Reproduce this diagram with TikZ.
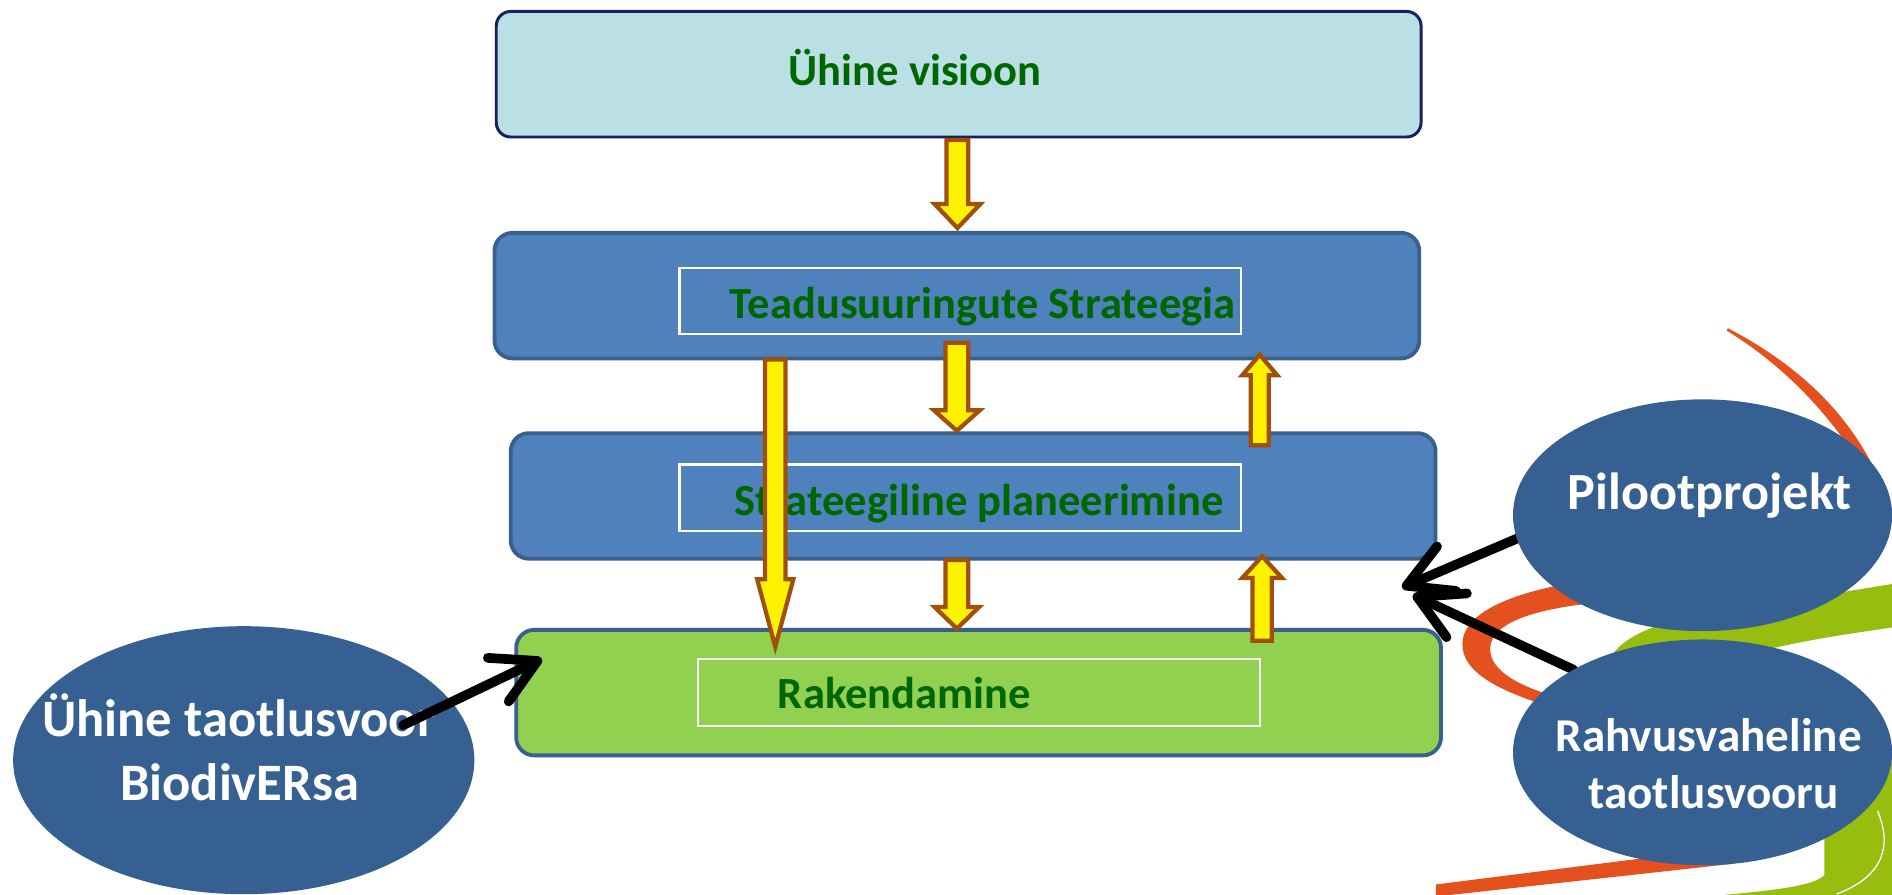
\documentclass[tikz,border=0pt]{standalone}
\usepackage{fontspec}
\setmainfont{Carlito}
\usetikzlibrary{arrows.meta,shapes.geometric,calc}
\definecolor{visfill}{RGB}{186,223,228}
\definecolor{visdraw}{RGB}{20,35,90}
\definecolor{bluefill}{RGB}{79,129,189}
\definecolor{bluedraw}{RGB}{58,95,140}
\definecolor{greenfill}{RGB}{146,208,80}
\definecolor{textgreen}{RGB}{0,102,0}
\definecolor{ovalfill}{RGB}{55,96,146}
\definecolor{ribbonorange}{RGB}{228,80,30}
\definecolor{ribbongreen}{RGB}{151,189,15}
\definecolor{arrowbrown}{RGB}{160,80,10}
\newcommand{\yarrow}[5]{%
  \draw[yblock] let \p1=(#1), \p2=(#2), \n1={sign(\y2-\y1)}, \n2={\y2-\n1*#3} in
    ({\x1-#4},\y1) -- ({\x1+#4},\y1) -- ({\x1+#4},\n2) -- ({\x1+#5},\n2)
    -- (\x2,\y2) -- ({\x1-#5},\n2) -- ({\x1-#4},\n2) -- cycle;}
\tikzset{
  boxbase/.style={rectangle, rounded corners=0.15cm, minimum width=7.66cm, minimum height=1.04cm, inner sep=0pt, line width=0.9pt},
  topbox/.style={boxbase, fill=visfill, draw=visdraw, line width=0.7pt, rounded corners=0.12cm},
  bluebox/.style={boxbase, fill=bluefill, draw=bluedraw},
  greenbox/.style={boxbase, fill=greenfill, draw=bluedraw},
  innerrect/.style={rectangle, draw=white, line width=0.5pt, inner sep=0pt, minimum width=4.65cm, minimum height=0.55cm},
  boxtext/.style={anchor=base west, inner sep=0pt, font=\bfseries\fontsize{10.5}{12}\selectfont, text=textgreen},
  oval/.style={ellipse, fill=ovalfill, inner sep=0pt},
  ovaltext/.style={anchor=base, inner sep=0pt, text=white},
  yblock/.style={fill=yellow, draw=arrowbrown, line width=1pt, line join=miter},
  barrow/.style={draw=black, line width=0.08cm, line cap=round, -{Straight Barb[length=0.36cm, width=0.40cm, round]}},
  orangeband/.style={fill=ribbonorange},
  greenband/.style={fill=ribbongreen},
}
\begin{document}
\begin{tikzpicture}[x=0.01cm, y=-0.01cm]
\useasboundingbox (0,0) rectangle (1568,741);
\fill[white] (0,0) rectangle (1568,741);

% decorative ribbons
\fill[orangeband] (1432,272) .. controls (1478,296) and (1522,330) .. (1550,382)
  -- (1540,382) .. controls (1512,338) and (1474,300) .. (1431,274) -- cycle;
\fill[orangeband] (1340,478) .. controls (1262,486) and (1213,505) .. (1212,533)
  .. controls (1211,558) and (1245,575) .. (1300,590)
  -- (1300,580) .. controls (1258,570) and (1234,555) .. (1235,537)
  .. controls (1236,516) and (1272,503) .. (1340,498) -- cycle;
\fill[orangeband] (1190,733) -- (1435,702) -- (1435,716) -- (1190,743) -- cycle;
\fill[greenband] (1330,565) .. controls (1328,535) and (1360,517) .. (1420,508)
  -- (1568,484) -- (1568,520) .. controls (1520,527) and (1480,533) .. (1440,545)
  -- (1400,575) -- cycle;
\fill[greenband] (1425,742) .. controls (1470,738) and (1505,734) .. (1512,725)
  -- (1512,690) -- (1500,640) -- (1568,620) -- (1568,742) -- cycle;
\draw[white, line width=0.3pt] (1556,672) .. controls (1568,700) and (1562,726) .. (1522,741);

% boxes
\node[topbox] (vis) at (794.5,61.5) {};
\node[bluebox] (tea) at (793,245) {};
\node[bluebox] (str) at (806.5,411) {};
\node[greenbox] (rak) at (811,574) {};
\node[innerrect] (teain) at (795.8,249.5) {};
\node[innerrect] (strin) at (795.8,412.5) {};
\node[innerrect] (rakin) at (811.3,574) {};
\node[boxtext] (vist) at (653,70.5) {Ühine visioon};
\node[boxtext] (teat) at (604,264) {Teadusuuringute Strateegia};
\node[boxtext] (strt) at (608,427) {Strateegiline planeerimine};
\node[boxtext] (rakt) at (644,587) {Rakendamine};

% yellow block arrows
\coordinate (a1s) at (793.5,116); \coordinate (a1e) at (793.5,189);
\coordinate (a2s) at (793,284);   \coordinate (a2e) at (793,357);
\coordinate (a3s) at (793,464);   \coordinate (a3e) at (793,521);
\coordinate (a4s) at (1044,369);  \coordinate (a4e) at (1044,294);
\coordinate (a5s) at (1046,531);  \coordinate (a5e) at (1046,461);
\coordinate (a6s) at (642.5,298); \coordinate (a6e) at (642.5,536);
\yarrow{a1s}{a1e}{0.20cm}{0.09cm}{0.19cm}
\yarrow{a2s}{a2e}{0.17cm}{0.095cm}{0.19cm}
\yarrow{a3s}{a3e}{0.18cm}{0.095cm}{0.185cm}
\yarrow{a4s}{a4e}{0.17cm}{0.075cm}{0.145cm}
\yarrow{a5s}{a5e}{0.18cm}{0.08cm}{0.165cm}
\yarrow{a6s}{a6e}{0.56cm}{0.085cm}{0.15cm}

% black arrows from the right ovals
\coordinate (b2s) at (1258,446); \coordinate (b2e) at (1162,487);
\coordinate (b3s) at (1304,555); \coordinate (b3e) at (1171,493);
\draw[barrow] (b2s) -- (b2e);
\draw[barrow] (b3s) -- (b3e);

% ovals
\node[oval, minimum width=3.82cm, minimum height=2.22cm] (eb) at (202,630) {};
\node[oval, minimum width=3.14cm, minimum height=1.92cm] (ep) at (1411,427) {};
\node[oval, minimum width=3.14cm, minimum height=1.87cm] (er) at (1411,623.5) {};
\node[ovaltext, font=\bfseries\fontsize{12.4}{14}\selectfont] (ebt1) at (198,610) {Ühine taotlusvoor};
\node[ovaltext, font=\bfseries\fontsize{12.4}{14}\selectfont] (ebt2) at (198.5,663) {BiodivERsa};
\node[ovaltext, font=\bfseries\fontsize{12.3}{14}\selectfont] (ept) at (1417,422) {Pilootprojekt};
\node[ovaltext, font=\bfseries\fontsize{11.1}{13}\selectfont] (ert1) at (1416,623) {Rahvusvaheline};
\node[ovaltext, font=\bfseries\fontsize{11.1}{13}\selectfont] (ert2) at (1420,670) {taotlusvooru};

% black arrow from left oval
\coordinate (b1s) at (334,601); \coordinate (b1e) at (449,546);
\draw[barrow] (b1s) -- (b1e);
\end{tikzpicture}
\end{document}
